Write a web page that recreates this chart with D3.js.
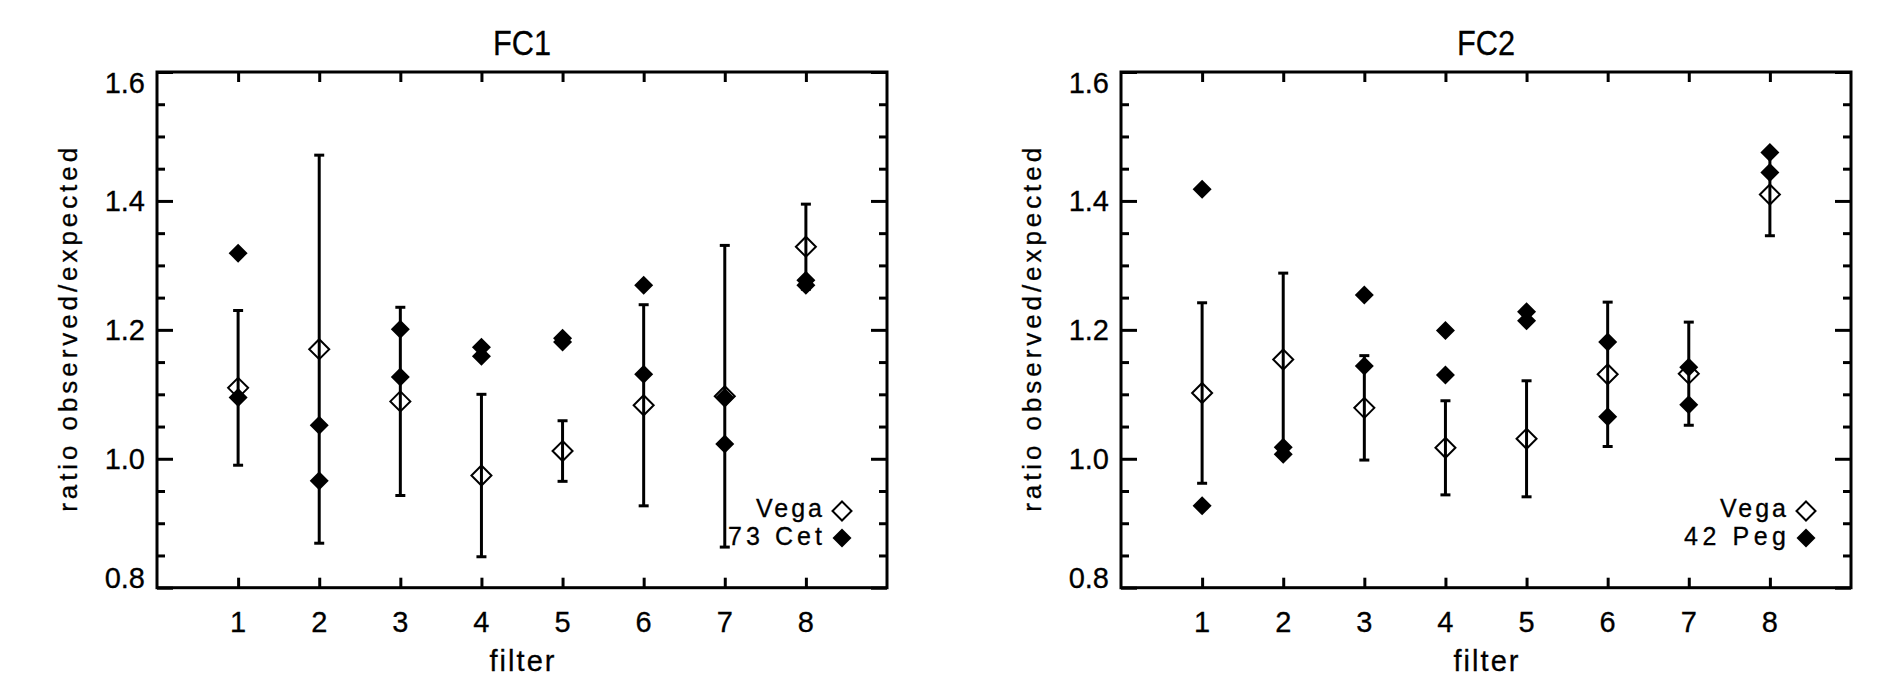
<!DOCTYPE html>
<html>
<head>
<meta charset="utf-8">
<script src="https://cdn.jsdelivr.net/npm/d3@7"></script>
<style>
  body { margin: 0; background: #fff; }
  text { font-family: "Liberation Sans", Arial, sans-serif; fill: #000; stroke: #000; stroke-width: 0.3px; }
</style>
</head>
<body>
<svg width="1900" height="700"></svg>
<script>
// filters on the x axis
const filters = [1, 2, 3, 4, 5, 6, 7, 8]
const yMajor = [0.8, 1.0, 1.2, 1.4, 1.6]
const yMinor = [0.85, 0.9, 0.95, 1.05, 1.1, 1.15, 1.25, 1.3, 1.35, 1.45, 1.5, 1.55]

// FC1
const fc1Vega    = [1.110, 1.170, 1.089, 0.974, 1.012, 1.083, 1.097, 1.329]
const fc1VegaErr = [0.120, 0.301, 0.146, 0.126, 0.047, 0.156, 0.234, 0.066]
const fc1CetA    = [1.319, 1.052, 1.201, 1.173, 1.187, 1.269, 1.095, 1.277]
const fc1CetB    = [1.095, 0.966, 1.127, 1.159, 1.181, 1.131, 1.023, 1.269]

// FC2
const fc2Vega    = [1.102, 1.154, 1.079, 1.017, 1.031, 1.131, 1.132, 1.410]
const fc2VegaErr = [0.140, 0.134, 0.081, 0.073, 0.090, 0.112, 0.080, 0.064]
const fc2PegA    = [1.418, 1.018, 1.254, 1.199, 1.228, 1.181, 1.142, 1.475]
const fc2PegB    = [0.927, 1.007, 1.144, 1.130, 1.214, 1.065, 1.084, 1.444]

const W = 730, H = 515.7

const x = d3.scaleLinear().domain([0, 9]).range([0, W])
const y = d3.scaleLinear().domain([0.8, 1.6]).range([H, 0])

const svg = d3.select("svg")

function diamond(h) {
  return "M0," + (-h) + "L" + h + ",0L0," + h + "L" + (-h) + ",0Z"
}

function drawPanel(left, title, vega, vegaErr, starA, starB, starName) {
  const g = svg.append("g").attr("transform", "translate(" + left + ",72)")

  // ticks (inward on all four sides)
  const tickStyle = function(sel) {
    sel.select(".domain").remove()
    sel.selectAll("line").attr("stroke", "#000").attr("stroke-width", 3)
    sel.selectAll("text").remove()
  }
  g.append("g").attr("transform", "translate(0," + H + ")")
    .call(d3.axisBottom(x).tickValues(filters).tickSize(-10)).call(tickStyle)
  g.append("g")
    .call(d3.axisTop(x).tickValues(filters).tickSize(-10)).call(tickStyle)
  g.append("g").call(d3.axisLeft(y).tickValues(yMajor).tickSize(-16)).call(tickStyle)
  g.append("g").call(d3.axisLeft(y).tickValues(yMinor).tickSize(-8)).call(tickStyle)
  g.append("g").attr("transform", "translate(" + W + ",0)")
    .call(d3.axisRight(y).tickValues(yMajor).tickSize(-16)).call(tickStyle)
  g.append("g").attr("transform", "translate(" + W + ",0)")
    .call(d3.axisRight(y).tickValues(yMinor).tickSize(-8)).call(tickStyle)

  g.append("rect")
    .attr("width", W).attr("height", H)
    .attr("fill", "none").attr("stroke", "#000").attr("stroke-width", 3)

  // tick labels
  g.selectAll(".xl").data(filters).enter().append("text")
    .attr("x", d => x(d)).attr("y", H + 44)
    .attr("text-anchor", "middle").attr("font-size", 29)
    .text(d => d)
  g.selectAll(".yl").data(yMajor).enter().append("text")
    .attr("x", -12)
    .attr("y", d => d === 1.6 ? y(d) + 21 : d === 0.8 ? y(d) : y(d) + 10.5)
    .attr("text-anchor", "end").attr("font-size", 29)
    .text(d => d.toFixed(1))

  // titles
  g.append("text").attr("x", W / 2).attr("y", -17)
    .attr("text-anchor", "middle").attr("font-size", 35)
    .attr("textLength", 58).attr("lengthAdjust", "spacingAndGlyphs")
    .text(title)
  g.append("text").attr("x", W / 2).attr("y", H + 83)
    .attr("text-anchor", "middle").attr("font-size", 29)
    .attr("textLength", 65).attr("lengthAdjust", "spacing")
    .text("filter")
  g.append("text")
    .attr("transform", "translate(-80," + (H / 2) + ") rotate(-90)")
    .attr("text-anchor", "middle").attr("font-size", 26)
    .attr("textLength", 364).attr("lengthAdjust", "spacing")
    .text("ratio observed/expected")

  // error bars on Vega
  const eb = g.append("g").attr("stroke", "#000").attr("stroke-width", 3)
  filters.forEach(function(f, i) {
    const lo = y(vega[i] - vegaErr[i]), hi = y(vega[i] + vegaErr[i])
    eb.append("line").attr("x1", x(f)).attr("x2", x(f)).attr("y1", lo).attr("y2", hi)
    eb.append("line").attr("x1", x(f) - 5).attr("x2", x(f) + 5).attr("y1", lo).attr("y2", lo)
    eb.append("line").attr("x1", x(f) - 5).attr("x2", x(f) + 5).attr("y1", hi).attr("y2", hi)
  })

  // open diamonds = Vega
  g.selectAll(".vega").data(vega).enter().append("path")
    .attr("d", diamond(10))
    .attr("transform", (d, i) => "translate(" + x(filters[i]) + "," + y(d) + ")")
    .attr("fill", "none").attr("stroke", "#000").attr("stroke-width", 2)

  // filled diamonds = comparison star
  const both = starA.map((d, i) => [filters[i], d]).concat(starB.map((d, i) => [filters[i], d]))
  g.selectAll(".star").data(both).enter().append("path")
    .attr("d", diamond(9.5))
    .attr("transform", d => "translate(" + x(d[0]) + "," + y(d[1]) + ")")
    .attr("fill", "#000")

  // legend
  const lg = g.append("g").attr("transform", "translate(" + (W - 45) + ",0)")
  lg.append("text").attr("x", -20).attr("y", 445).attr("text-anchor", "end")
    .attr("font-size", 25).attr("textLength", 66).attr("lengthAdjust", "spacing")
    .text("Vega")
  lg.append("path").attr("d", diamond(9.5)).attr("transform", "translate(0,439)")
    .attr("fill", "none").attr("stroke", "#000").attr("stroke-width", 2)
  lg.append("text").attr("x", -20).attr("y", 473).attr("text-anchor", "end")
    .attr("font-size", 25).attr("textLength", starName === "73 Cet" ? 94 : 102)
    .attr("lengthAdjust", "spacing")
    .text(starName)
  lg.append("path").attr("d", diamond(9.5)).attr("transform", "translate(0,466)")
    .attr("fill", "#000")
}

drawPanel(157, "FC1", fc1Vega, fc1VegaErr, fc1CetA, fc1CetB, "73 Cet")
drawPanel(1121, "FC2", fc2Vega, fc2VegaErr, fc2PegA, fc2PegB, "42 Peg")
</script>
</body>
</html>
